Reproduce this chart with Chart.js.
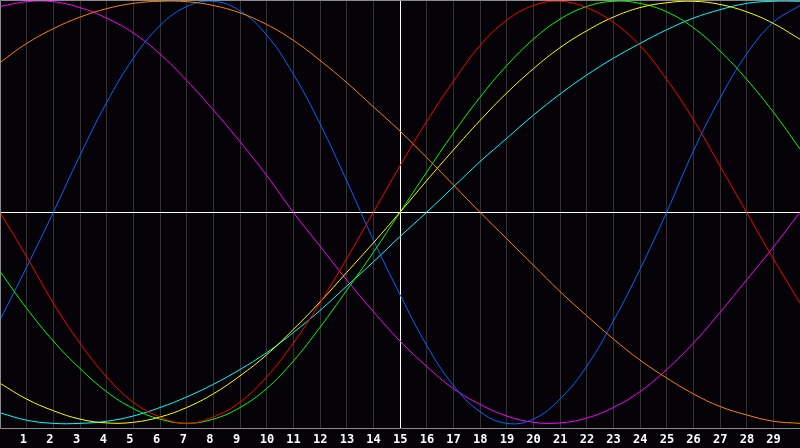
<!DOCTYPE html>
<html>
<head>
<meta charset="utf-8">
<script src="https://cdn.jsdelivr.net/npm/chart.js@4/dist/chart.umd.min.js"></script>
<style>
  html, body { margin: 0; padding: 0; background: #050307; }
  canvas { display: block; }
</style>
</head>
<body>
<canvas id="waves" width="800" height="448"></canvas>
<script>
// x positions (one sample per grid column)
const xVals = [0,1,2,3,4,5,6,7,8,9,10,11,12,13,14,15,16,17,18,19,20,21,22,23,24,25,26,27,28,29,30];
const tickLabels = ['1','2','3','4','5','6','7','8','9','10','11','12','13','14','15',
  '16','17','18','19','20','21','22','23','24','25','26','27','28','29'];

// values, -1 .. 1
const red = [0, -0.21, -0.43, -0.62, -0.78, -0.90, -0.97, -1.0, -0.97, -0.90, -0.78, -0.62, -0.43, -0.22, 0,
  0.22, 0.43, 0.62, 0.79, 0.91, 0.98, 1.0, 0.97, 0.90, 0.79, 0.63, 0.44, 0.22, 0, -0.22, -0.43];
const orange = [0.71, 0.80, 0.87, 0.925, 0.965, 0.99, 1.0, 0.998, 0.98, 0.945, 0.89, 0.815, 0.72, 0.615, 0.50,
  0.385, 0.26, 0.13, 0, -0.125, -0.25, -0.375, -0.49, -0.60, -0.70, -0.785, -0.86, -0.92, -0.96, -0.99, -1.0];
const yellow = [-0.81, -0.885, -0.94, -0.98, -0.998, -0.995, -0.97, -0.925, -0.86, -0.775, -0.675, -0.555, -0.425, -0.285, -0.145,
  0, 0.15, 0.295, 0.435, 0.565, 0.68, 0.78, 0.86, 0.925, 0.97, 0.993, 1.0, 0.985, 0.95, 0.895, 0.82];
const green = [-0.28, -0.455, -0.61, -0.74, -0.85, -0.93, -0.98, -1.0, -0.98, -0.925, -0.835, -0.705, -0.545, -0.37, -0.19,
  0, 0.19, 0.375, 0.545, 0.695, 0.82, 0.915, 0.975, 1.0, 0.99, 0.95, 0.875, 0.765, 0.63, 0.475, 0.30];
const cyan = [-0.95, -0.985, -1.0, -1.0, -0.99, -0.965, -0.925, -0.875, -0.815, -0.745, -0.665, -0.57, -0.465, -0.35, -0.235,
  -0.115, 0, 0.12, 0.24, 0.35, 0.46, 0.56, 0.65, 0.73, 0.80, 0.865, 0.92, 0.96, 0.99, 1.0, 1.0];
const blue = [-0.51, -0.26, 0, 0.27, 0.52, 0.73, 0.885, 0.975, 1.0, 0.955, 0.84, 0.655, 0.42, 0.15, -0.13,
  -0.39, -0.63, -0.82, -0.945, -1.0, -0.98, -0.885, -0.73, -0.515, -0.27, 0, 0.29, 0.54, 0.75, 0.90, 0.98];
const magenta = [0.975, 0.998, 0.998, 0.97, 0.92, 0.85, 0.75, 0.625, 0.485, 0.335, 0.175, 0, -0.16, -0.32, -0.47,
  -0.61, -0.73, -0.835, -0.91, -0.965, -0.995, -0.998, -0.975, -0.925, -0.85, -0.745, -0.62, -0.475, -0.32, -0.165, 0];

const seriesList = [
  { name: 'red', values: red, color: '#ff0000' },
  { name: 'orange', values: orange, color: '#ff8000' },
  { name: 'yellow', values: yellow, color: '#ffff00' },
  { name: 'green', values: green, color: '#00ff00' },
  { name: 'cyan', values: cyan, color: '#00ffff' },
  { name: 'blue', values: blue, color: '#0066ff' },
  { name: 'magenta', values: magenta, color: '#ff00ff' }
];

// background + frame (left, top, bottom)
const frame = {
  id: 'frame',
  beforeDraw(chart) {
    const c = chart.ctx;
    c.save();
    c.fillStyle = '#050307';
    c.fillRect(0, 0, chart.width, chart.height);
    c.restore();
  },
  afterDatasetsDraw(chart) {
    const a = chart.chartArea;
    const c = chart.ctx;
    c.save();
    c.strokeStyle = '#8a8a8a';
    c.lineWidth = 1;
    c.beginPath();
    c.moveTo(a.right, a.top + 0.5);
    c.lineTo(a.left + 0.5, a.top + 0.5);
    c.lineTo(a.left + 0.5, a.bottom + 0.5);
    c.lineTo(a.right, a.bottom + 0.5);
    c.stroke();
    c.restore();
  }
};

const ctx = document.getElementById('waves').getContext('2d');
const wavesChart = new Chart(ctx, {
  type: 'line',
  data: {
    datasets: seriesList.map(s => ({
      label: s.name,
      data: xVals.map((x, i) => ({ x: x, y: s.values[i] })),
      borderColor: s.color,
      borderWidth: 1,
      pointRadius: 0,
      fill: false,
      tension: 0.4
    }))
  },
  options: {
    responsive: false,
    animation: false,
    devicePixelRatio: 1,
    layout: { padding: 0 },
    plugins: { legend: { display: false }, tooltip: { enabled: false } },
    scales: {
      x: {
        type: 'linear',
        min: 0,
        max: 30,
        afterBuildTicks: scale => {
          scale.ticks = xVals.map(v => ({ value: v }));
        },
        afterFit: scale => {
          scale.height = 20;
          scale.paddingLeft = 0;
          scale.paddingRight = 0;
        },
        ticks: {
          autoSkip: false,
          maxRotation: 0,
          padding: 5,
          align: 'start',
          labelOffset: -7,
          color: '#ffffff',
          font: { family: 'DejaVu Sans Mono', size: 12, weight: 'bold' },
          callback: v => (v >= 1 && v <= 29) ? tickLabels[v - 1] : ''
        },
        grid: {
          drawTicks: false,
          lineWidth: 1,
          color: c => {
            const v = c.tick ? c.tick.value : null;
            if (v === 15) return '#ffffff';
            if (v === 0 || v === 30) return 'rgba(0,0,0,0)';
            return '#333333';
          }
        },
        border: { display: false }
      },
      y: {
        min: -1.022,
        max: 1.006,
        afterBuildTicks: scale => {
          scale.ticks = [{ value: 0 }];
        },
        afterFit: scale => {
          scale.width = 0;
          scale.paddingTop = 0;
          scale.paddingBottom = 0;
        },
        ticks: { display: false },
        grid: {
          drawTicks: false,
          lineWidth: 1,
          color: '#ffffff'
        },
        border: { display: false }
      }
    }
  },
  plugins: [frame]
});
</script>
</body>
</html>
